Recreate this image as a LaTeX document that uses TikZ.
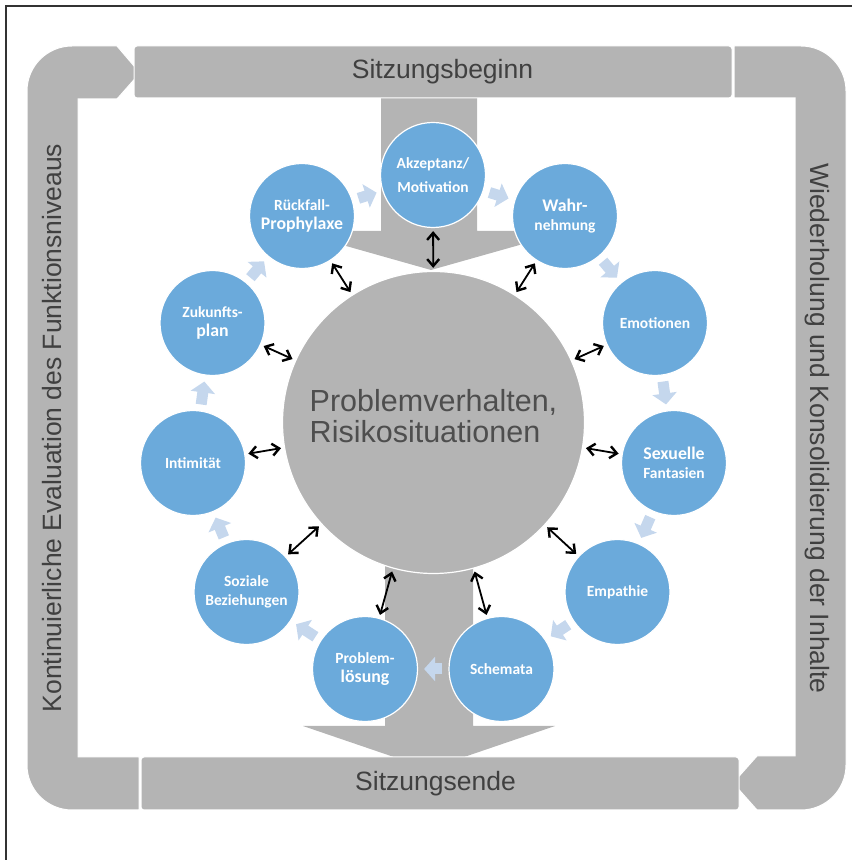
\documentclass[tikz,border=0pt]{standalone}
\usepackage{fontspec}
\setmainfont{Liberation Sans}
\newfontfamily\calfont{Carlito}
\usetikzlibrary{arrows.meta}

\definecolor{ringgray}{RGB}{180,180,180}
\definecolor{textgray}{RGB}{64,64,64}
\definecolor{coretext}{RGB}{78,78,78}
\definecolor{topicblue}{RGB}{107,170,219}
\definecolor{flowblue}{RGB}{197,215,237}
\newcommand{\bigword}{\fontsize{17.8}{19}\selectfont}

\begin{document}
\begin{tikzpicture}[x=1pt,y=1pt,
  ring/.style={fill=ringgray, draw=white, line width=1pt},
  bar/.style={ring, rectangle, rounded corners=3pt, inner sep=0pt, text=textgray,
    font=\fontsize{26.5}{30}\selectfont},
  side/.style={inner sep=0pt, anchor=base, text=textgray, font=\fontsize{26.5}{30}\selectfont},
  core/.style={circle, fill=ringgray, draw=white, line width=1.2pt, inner sep=0pt,
    minimum size=302pt, align=left, text=coretext,
    text depth=13pt, font=\fontsize{30.5}{31.5}\selectfont},
  topic/.style={circle, fill=topicblue, draw=white, line width=1.2pt, inner sep=0pt,
    minimum size=105pt, align=center, text=white,
    font=\calfont\bfseries\fontsize{15.5}{19}\selectfont},
  link/.style={{Straight Barb[length=7pt,width=12pt,line width=2.4pt]}-{Straight Barb[length=7pt,width=12pt,line width=2.4pt]},
    line width=1.8pt, shorten <=3pt, shorten >=3pt},
  flow/.style={flowblue, line width=11pt, -{Triangle[length=11pt,width=24pt]},
    shorten <=6pt, shorten >=6pt}]

  \useasboundingbox (0,0) rectangle (852,860);
  \draw[line width=1.3pt, black!80] (6,0) -- (6,854) -- (852,854);

% Funnels
  \fill[ringgray] (381,770) -- (381,629) -- (293,629) -- (431,590) -- (569,629)
    -- (477,629) -- (477,770) -- cycle;
  \fill[ringgray] (385,330) -- (385,134) -- (303,134) -- (429,91) -- (555,134)
    -- (473,134) -- (473,330) -- cycle;

% Ring
  \filldraw[ring] (139,103) -- (139,50) -- (72,50) arc[start angle=270,end angle=180,radius=45pt]
    -- (27,769) arc[start angle=180,end angle=90,radius=45pt] -- (117,814) -- (140,787)
    -- (117,761) -- (78,761) -- (78,103) -- cycle;
  \filldraw[ring] (734,814) -- (801,814) arc[start angle=90,end angle=0,radius=45pt]
    -- (846,95) arc[start angle=0,end angle=-90,radius=45pt] -- (757,50) -- (733,77)
    -- (757,104) -- (795,104) -- (795,762) -- (734,762) -- cycle;
  \node[bar, minimum width=598pt, minimum height=52pt] (begin) at (433,788)
    {\hspace*{19pt}Sitzungsbeginn};
  \node[bar, minimum width=598pt, minimum height=53pt] (end) at (440,76.5)
    {\hspace*{-9pt}Sitzungsende};
  \node[side, rotate=90]  (eval)   at (61,432)  {Kontinuierliche Evaluation des Funktionsniveaus};
  \node[side, rotate=-90] (repeat) at (810,431.5) {Wiederholung und Konsolidierung der Inhalte};

% Nodes
  \node[core]  (prob) at (433.5,437.5) {Problemverhalten,\\Risikosituationen};
  \node[topic] (akz)  at (433,685)   {Akzeptanz/\\[5pt]Motivation};
  \node[topic] (wahr) at (565,644)   {{\bigword Wahr-}\\nehmung};
  \node[topic] (emo)  at (655,537)   {Emotionen};
  \node[topic] (sex)  at (674,397)   {{\bigword Sexuelle}\\Fantasien};
  \node[topic] (emp)  at (617.5,268) {Empathie};
  \node[topic] (sche) at (501.5,191) {Schemata};
  \node[topic] (plo)  at (365,191)   {Problem-\\{\bigword lösung}};
  \node[topic] (soz)  at (246.5,268) {Soziale\\Beziehungen};
  \node[topic] (inti) at (193,397)   {Intimität};
  \node[topic] (zuk)  at (212.5,537) {Zukunfts-\\{\bigword plan}};
  \node[topic] (rue)  at (302,644)   {Rückfall-\\{\bigword Prophylaxe}};

% Edges
  \draw[link] (akz)  -- (prob);
  \draw[link] (wahr) -- (prob);
  \draw[link] (emo)  -- (prob);
  \draw[link] (sex)  -- (prob);
  \draw[link] (emp)  -- (prob);
  \draw[link] (sche) -- (prob);
  \draw[link] (plo)  -- (prob);
  \draw[link] (soz)  -- (prob);
  \draw[link] (inti) -- (prob);
  \draw[link] (zuk)  -- (prob);
  \draw[link] (rue)  -- (prob);

  \draw[flow] (rue)  -- (akz);
  \draw[flow] (akz)  -- (wahr);
  \draw[flow] (wahr) -- (emo);
  \draw[flow] (emo)  -- (sex);
  \draw[flow] (sex)  -- (emp);
  \draw[flow] (emp)  -- (sche);
  \draw[flow] (sche) -- (plo);
  \draw[flow] (plo)  -- (soz);
  \draw[flow] (soz)  -- (inti);
  \draw[flow] (inti) -- (zuk);
  \draw[flow] (zuk)  -- (rue);

\end{tikzpicture}
\end{document}
